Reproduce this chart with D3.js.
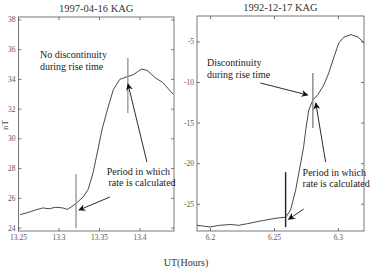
<!DOCTYPE html>
<html>
<head>
<meta charset="utf-8">
<script src="https://cdn.jsdelivr.net/npm/d3@7"></script>
<style>
  body { margin: 0; background: #fff; }
  svg text { font-family: "Liberation Serif", "DejaVu Serif", serif; }
</style>
</head>
<body>
<div id="chart"></div>
<script>
// Left panel: 1997-04-16 KAG
const leftUT = [13.252, 13.262, 13.270, 13.280, 13.288, 13.296, 13.305, 13.310, 13.316, 13.322, 13.330, 13.336, 13.342, 13.348, 13.353, 13.360, 13.367, 13.375, 13.385, 13.391, 13.402, 13.409, 13.419, 13.428, 13.441]
const leftNT = [24.9, 25.05, 25.2, 25.35, 25.3, 25.4, 25.35, 25.25, 25.45, 25.7, 26.1, 26.6, 27.7, 29.25, 30.6, 32.0, 33.3, 34.0, 34.2, 34.3, 34.7, 34.6, 34.1, 33.8, 33.0]
const leftXTicks = [13.25, 13.3, 13.35, 13.4]
const leftXTickLabels = ["13.25", "13.3", "13.35", "13.4"]
const leftYTicks = [24, 26, 28, 30, 32, 34, 36, 38]

// Right panel: 1992-12-17 KAG
const rightUT = [6.1894, 6.1996, 6.2070, 6.2154, 6.2220, 6.2287, 6.2350, 6.2413, 6.2524, 6.2587, 6.2626, 6.2665, 6.2705, 6.2728, 6.2744, 6.2768, 6.2799, 6.2839, 6.2886, 6.2925, 6.2965, 6.3004, 6.3043, 6.3098, 6.3154, 6.3200]
const rightNT = [-27.6, -27.8, -27.6, -27.5, -27.6, -27.4, -27.2, -27.0, -26.7, -26.6, -25.7, -23.3, -19.9, -17.9, -15.9, -13.4, -12.2, -11.5, -10.3, -8.8, -6.85, -5.1, -4.4, -4.1, -4.4, -5.1]
const rightXTicks = [6.2, 6.25, 6.3]
const rightXTickLabels = ["6.2", "6.25", "6.3"]
const rightYTicks = [-25, -20, -15, -10, -5]

const titles = ["1997-04-16 KAG", "1992-12-17 KAG"]
const yLabel = "nT"
const xLabel = "UT(Hours)"

// Marker lines [ut, from, to]
const leftMarkers = [[13.321, 24.0, 27.64], [13.385, 31.74, 35.44]]
const rightMarkers = [[6.2587, -27.84, -21.05], [6.2800, -15.6, -8.83]]

// Arrows [utFrom, valFrom, utTo, valTo]
const leftArrows = [[13.363, 26.09, 13.3247, 25.21], [13.4086, 28.44, 13.3852, 33.69]]
const rightArrows = [[6.239, -10.06, 6.276, -11.54], [6.290, -19.81, 6.2823, -12.53], [6.2728, -25.6, 6.261, -26.85]]

// Notes [ut, val, text]
const leftNotes = [[13.2765, 35.44, "No discontinuity"], [13.2765, 34.64, "during rise time"], [13.359, 27.57, "Period in which"], [13.361, 26.83, "rate is calculated"]]
const rightNotes = [[6.1972, -7.96, "Discontinuity"], [6.1972, -9.44, "during rise time"], [6.272, -21.54, "Period in which"], [6.272, -22.9, "rate is calculated"]]

const width = 373
const height = 274

const svg = d3.select("#chart")
  .append("svg")
  .attr("width", width)
  .attr("height", height)

svg.append("rect").attr("width", width).attr("height", height).attr("fill", "#fff")

const defs = svg.append("defs")
defs.append("marker")
  .attr("id", "head")
  .attr("viewBox", "0 0 10 10")
  .attr("refX", 9)
  .attr("refY", 5)
  .attr("markerWidth", 7)
  .attr("markerHeight", 7)
  .attr("markerUnits", "userSpaceOnUse")
  .attr("orient", "auto")
  .append("path")
  .attr("d", "M0,0 L10,5 L0,10 L3,5 Z")
  .attr("fill", "#111")

function drawPanel(opts) {
  const x = d3.scaleLinear().domain(opts.xDomain).range([opts.left, opts.right])
  const y = d3.scaleLinear().domain(opts.yDomain).range([opts.bottom, opts.top])
  const g = svg.append("g")

  // frame
  g.append("rect")
    .attr("x", opts.left)
    .attr("y", opts.top)
    .attr("width", opts.right - opts.left)
    .attr("height", opts.bottom - opts.top)
    .attr("fill", "none")
    .attr("stroke", "#555")
    .attr("stroke-width", 0.8)

  // inward ticks, all four sides
  const tk = 3
  opts.xTicks.forEach((t, i) => {
    g.append("line").attr("x1", x(t)).attr("x2", x(t)).attr("y1", opts.bottom).attr("y2", opts.bottom - tk).attr("stroke", "#555").attr("stroke-width", 0.8)
    g.append("line").attr("x1", x(t)).attr("x2", x(t)).attr("y1", opts.top).attr("y2", opts.top + tk).attr("stroke", "#555").attr("stroke-width", 0.8)
    g.append("text")
      .attr("x", x(t))
      .attr("y", opts.bottom + 9)
      .attr("text-anchor", "middle")
      .attr("font-size", 7.5)
      .attr("fill", "#555")
      .text(opts.xTickLabels[i])
  })
  opts.yTicks.forEach(t => {
    g.append("line").attr("x1", opts.left).attr("x2", opts.left + tk).attr("y1", y(t)).attr("y2", y(t)).attr("stroke", "#555").attr("stroke-width", 0.8)
    g.append("line").attr("x1", opts.right).attr("x2", opts.right - tk).attr("y1", y(t)).attr("y2", y(t)).attr("stroke", "#555").attr("stroke-width", 0.8)
    g.append("text")
      .attr("x", opts.left - 3)
      .attr("y", y(t) + 2.5)
      .attr("text-anchor", "end")
      .attr("font-size", 7.5)
      .attr("fill", "#555")
      .text(t)
  })

  // title
  g.append("text")
    .attr("x", (opts.left + opts.right) / 2)
    .attr("y", opts.top - 5)
    .attr("text-anchor", "middle")
    .attr("font-size", 10.5)
    .attr("fill", "#333")
    .text(opts.title)

  // data line
  const pts = opts.ut.map((u, i) => [u, opts.nt[i]])
  g.append("path")
    .datum(pts)
    .attr("fill", "none")
    .attr("stroke", "#333")
    .attr("stroke-width", 0.9)
    .attr("stroke-linejoin", "round")
    .attr("d", d3.line().x(d => x(d[0])).y(d => y(d[1])))

  // marker lines
  opts.markers.forEach((m, i) => {
    g.append("line")
      .attr("x1", x(m[0])).attr("x2", x(m[0]))
      .attr("y1", y(m[1])).attr("y2", y(m[2]))
      .attr("stroke", opts.markerColors[i])
      .attr("stroke-width", 1.4)
  })

  // arrows
  opts.arrows.forEach(a => {
    g.append("line")
      .attr("x1", x(a[0])).attr("y1", y(a[1]))
      .attr("x2", x(a[2])).attr("y2", y(a[3]))
      .attr("stroke", "#111")
      .attr("stroke-width", 0.9)
      .attr("marker-end", "url(#head)")
  })

  // notes
  opts.notes.forEach(n => {
    g.append("text")
      .attr("x", x(n[0]))
      .attr("y", y(n[1]))
      .attr("font-size", 10)
      .attr("fill", "#222")
      .text(n[2])
  })
}

drawPanel({
  left: 18.5, right: 174, top: 17, bottom: 231,
  xDomain: [13.25, 13.442], yDomain: [23.8, 38.2],
  xTicks: leftXTicks, xTickLabels: leftXTickLabels, yTicks: leftYTicks,
  title: titles[0], ut: leftUT, nt: leftNT,
  markers: leftMarkers, markerColors: ["#999", "#999"],
  arrows: leftArrows, notes: leftNotes
})

drawPanel({
  left: 197, right: 364, top: 16, bottom: 231,
  xDomain: [6.1894, 6.32], yDomain: [-28.3, -1.8],
  xTicks: rightXTicks, xTickLabels: rightXTickLabels, yTicks: rightYTicks,
  title: titles[1], ut: rightUT, nt: rightNT,
  markers: rightMarkers, markerColors: ["#222", "#888"],
  arrows: rightArrows, notes: rightNotes
})

svg.append("text")
  .attr("transform", "translate(8,125) rotate(-90)")
  .attr("text-anchor", "middle")
  .attr("font-size", 9)
  .attr("fill", "#444")
  .text(yLabel)

svg.append("text")
  .attr("x", 186)
  .attr("y", 266)
  .attr("text-anchor", "middle")
  .attr("font-size", 10)
  .attr("fill", "#333")
  .text(xLabel)
</script>
</body>
</html>
